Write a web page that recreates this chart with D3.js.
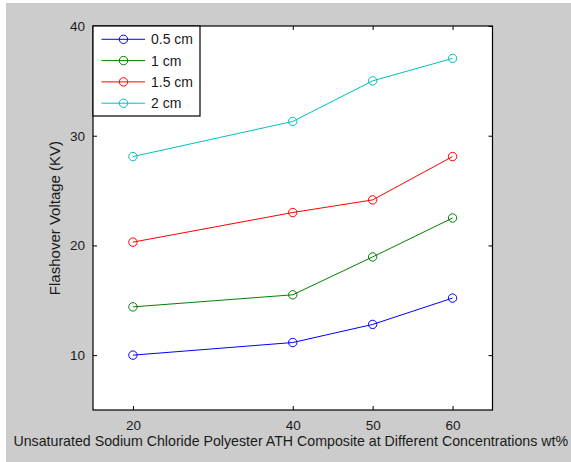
<!DOCTYPE html>
<html>
<head>
<meta charset="utf-8">
<script src="https://cdn.jsdelivr.net/npm/d3@7"></script>
<style>
  body { margin: 0; background: #fff; }
  svg text { font-family: "Liberation Sans", Arial, sans-serif; fill: #1a1a1a; }
</style>
</head>
<body>
<div id="chart"></div>
<script>
(function flashover_chart() {

  const concentrations = [20, 40, 50, 60];
  const seriesNames = ["0.5 cm", "1 cm", "1.5 cm", "2 cm"];
  const seriesColors = ["#0000ff", "#008000", "#ff0000", "#00bfbf"];
  const v05 = [10.0, 11.15, 12.8, 15.2];
  const v10 = [14.4, 15.5, 18.95, 22.5];
  const v15 = [20.3, 23.0, 24.15, 28.1];
  const v20 = [28.1, 31.3, 35.0, 37.05];
  const xTicks = [20, 40, 50, 60];
  const yTicks = [10, 20, 30, 40];

  const width = 571, height = 462;
  const margin = { top: 26, right: 78.5, bottom: 52, left: 93 };

  const svg = d3.select("#chart")
    .append("svg")
    .attr("width", width)
    .attr("height", height);

  // matlab figure grey
  svg.append("rect")
    .attr("x", 6).attr("y", 3)
    .attr("width", width - 6).attr("height", height - 3)
    .attr("fill", "#cccccc");

  const x = d3.scaleLinear()
    .domain([15, 65])
    .range([margin.left, width - margin.right]);

  const y = d3.scaleLinear()
    .domain([5, 40])
    .range([height - margin.bottom, margin.top]);

  svg.append("rect")
    .attr("x", x(15)).attr("y", y(40))
    .attr("width", x(65) - x(15)).attr("height", y(5) - y(40))
    .attr("fill", "#fff");

  const series = [v05, v10, v15, v20].map((vals, i) => ({
    name: seriesNames[i],
    color: seriesColors[i],
    points: vals.map((v, j) => [concentrations[j], v])
  }));

  const line = d3.line()
    .x(d => x(d[0]))
    .y(d => y(d[1]));

  const g = svg.append("g");

  g.selectAll("path.series")
    .data(series)
    .join("path")
    .attr("class", "series")
    .attr("d", d => line(d.points))
    .attr("fill", "none")
    .attr("stroke", d => d.color)
    .attr("stroke-width", 1);

  series.forEach(s => {
    g.selectAll(null)
      .data(s.points)
      .join("circle")
      .attr("cx", d => x(d[0]))
      .attr("cy", d => y(d[1]))
      .attr("r", 4.2)
      .attr("fill", "none")
      .attr("stroke", s.color)
      .attr("stroke-width", 1);
  });

  // axes, ticks inward like matlab
  const tickLen = 4;
  const xAxisB = d3.axisBottom(x).tickValues(xTicks).tickSize(-tickLen).tickPadding(10);
  const xAxisT = d3.axisTop(x).tickValues(xTicks).tickSize(-tickLen).tickFormat("");
  const yAxisL = d3.axisLeft(y).tickValues(yTicks).tickSize(-tickLen).tickPadding(8);
  const yAxisR = d3.axisRight(y).tickValues(yTicks).tickSize(-tickLen).tickFormat("");

  const axes = [
    svg.append("g").attr("transform", `translate(0,${y(5)})`).call(xAxisB),
    svg.append("g").attr("transform", `translate(0,${y(40)})`).call(xAxisT),
    svg.append("g").attr("transform", `translate(${x(15)},0)`).call(yAxisL),
    svg.append("g").attr("transform", `translate(${x(65)},0)`).call(yAxisR)
  ];
  axes.forEach(a => {
    a.select(".domain").remove();
    a.selectAll(".tick line").attr("stroke", "#000");
    a.selectAll(".tick text")
      .attr("fill", "#1a1a1a")
      .style("font-size", "13.5px")
      .style("font-family", "Liberation Sans, Arial, sans-serif");
  });

  // axes box
  svg.append("rect")
    .attr("x", x(15)).attr("y", y(40))
    .attr("width", x(65) - x(15)).attr("height", y(5) - y(40))
    .attr("fill", "none")
    .attr("stroke", "#000")
    .attr("stroke-width", 1.2);

  svg.append("text")
    .attr("x", (x(15) + x(65)) / 2 - 2)
    .attr("y", 446)
    .attr("text-anchor", "middle")
    .style("font-size", "14.2px")
    .text("Unsaturated Sodium Chloride Polyester ATH Composite at Different Concentrations wt%");

  svg.append("text")
    .attr("transform", `translate(60,${(y(5) + y(40)) / 2}) rotate(-90)`)
    .attr("text-anchor", "middle")
    .style("font-size", "15px")
    .text("Flashover Voltage (KV)");

  // legend
  const lg = svg.append("g").attr("transform", `translate(${x(15)},${y(40)})`);
  lg.append("rect")
    .attr("width", 107).attr("height", 90)
    .attr("fill", "#fff")
    .attr("stroke", "#000")
    .attr("stroke-width", 1.2);

  const rows = lg.selectAll("g.row")
    .data(series)
    .join("g")
    .attr("class", "row")
    .attr("transform", (d, i) => `translate(0,${13.3 + i * 21.3})`);

  rows.append("line")
    .attr("x1", 8.5).attr("x2", 52)
    .attr("stroke", d => d.color);
  rows.append("circle")
    .attr("cx", 30.5).attr("r", 4.2)
    .attr("fill", "none")
    .attr("stroke", d => d.color);
  rows.append("text")
    .attr("x", 58)
    .attr("dy", "0.35em")
    .style("font-size", "14px")
    .text(d => d.name);

})();
</script>
</body>
</html>
